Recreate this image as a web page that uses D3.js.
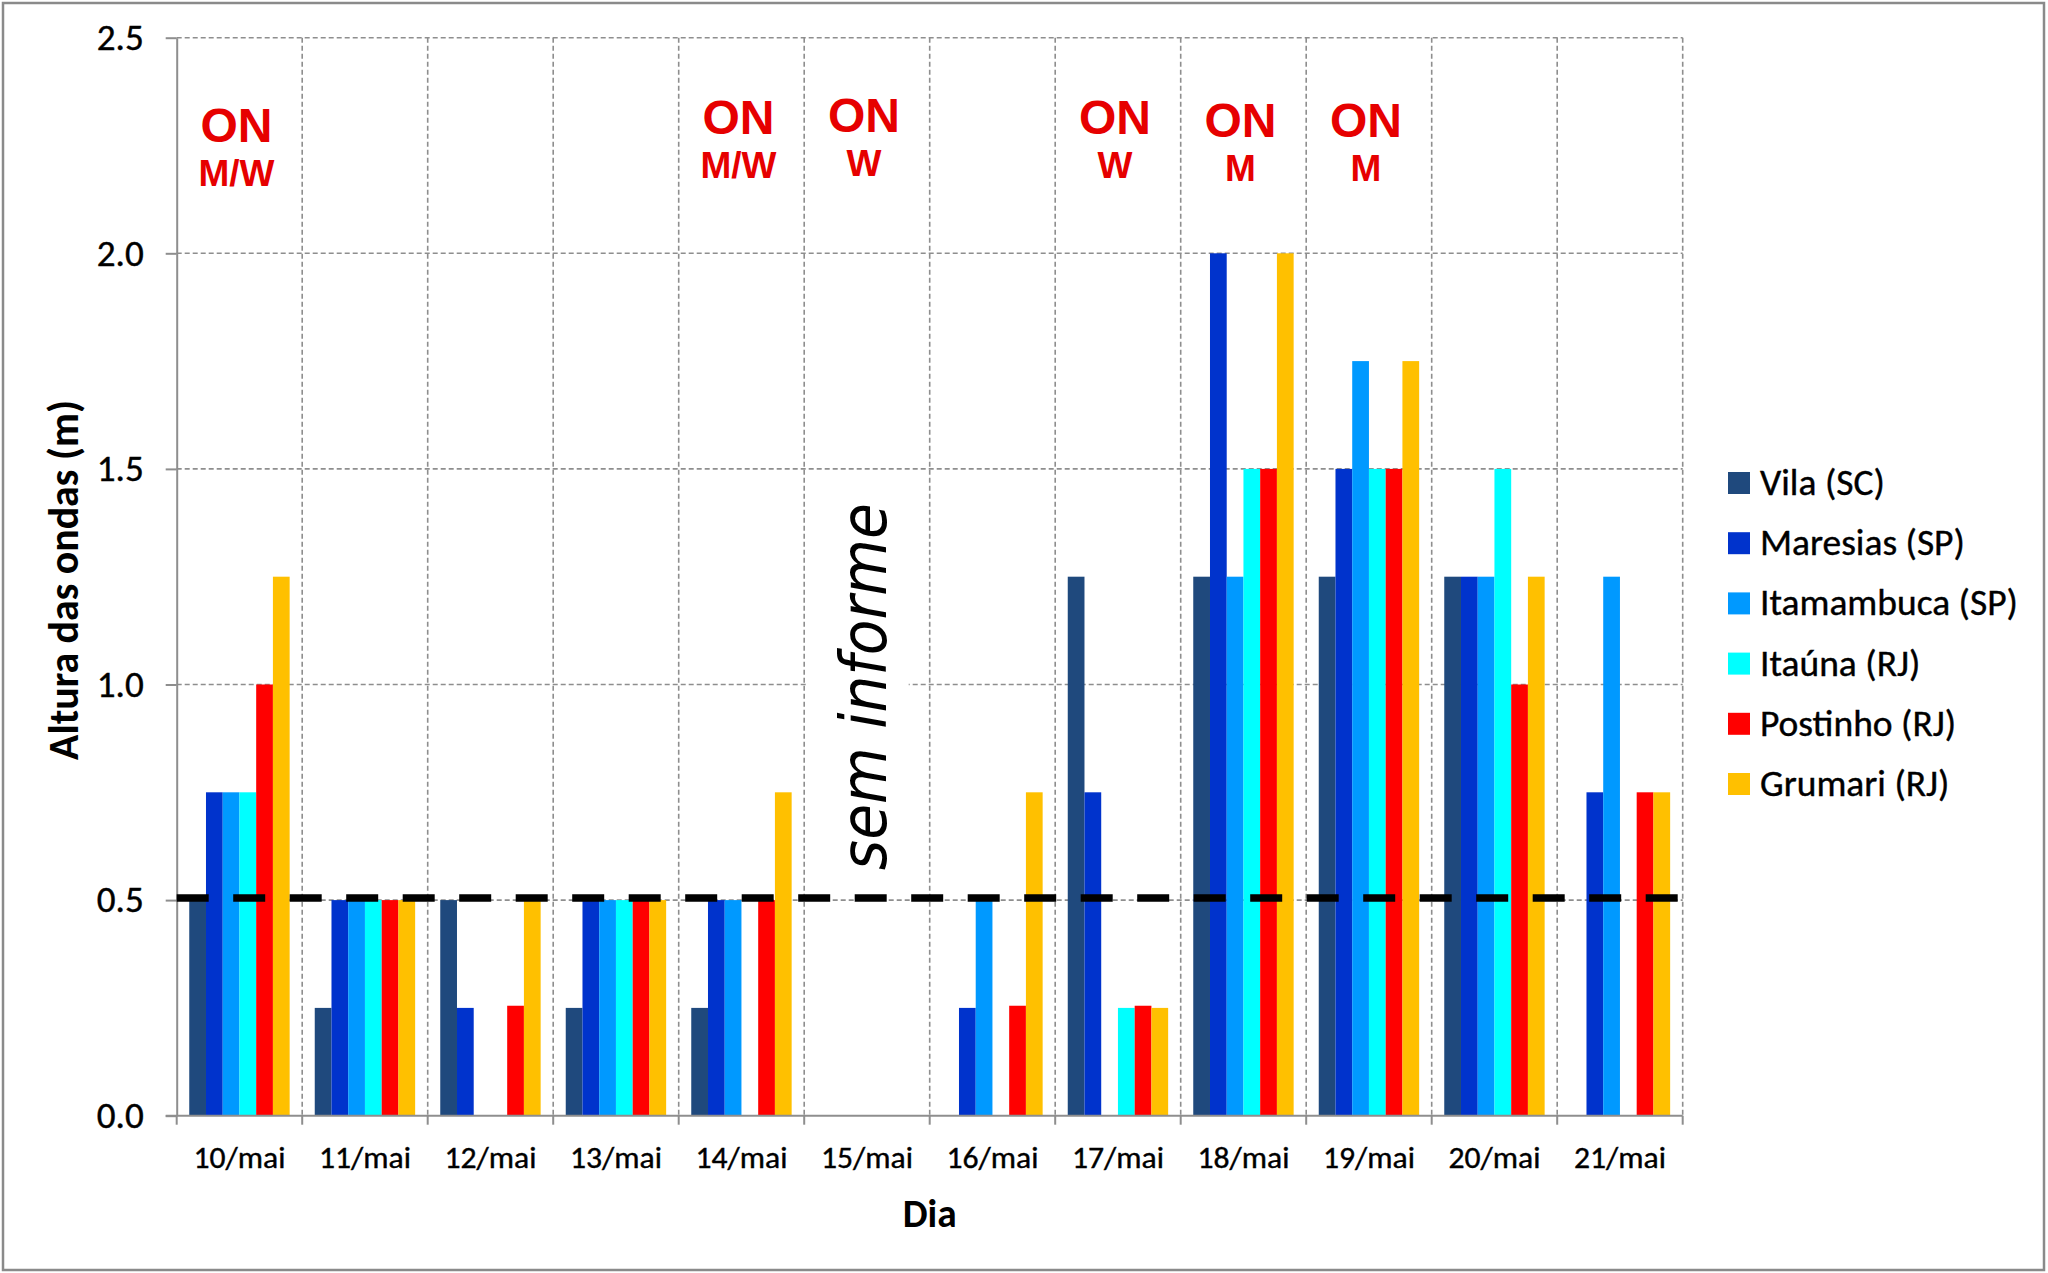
<!DOCTYPE html>
<html>
<head>
<meta charset="utf-8">
<script src="https://cdn.jsdelivr.net/npm/d3@7"></script>
<style>
  html, body { margin: 0; padding: 0; background: #ffffff; }
  svg { display: block; }
</style>
</head>
<body>
<svg id="chart" width="2048" height="1273"></svg>
<script>
// ---------------- DATA ----------------
const days = ["10/mai","11/mai","12/mai","13/mai","14/mai","15/mai","16/mai","17/mai","18/mai","19/mai","20/mai","21/mai"];
const seriesNames = ["Vila (SC)","Maresias (SP)","Itamambuca (SP)","Itaúna (RJ)","Postinho (RJ)","Grumari (RJ)"];
const vila       = [0.5, 0.25, 0.5,  0.25, 0.25, null, null,  1.25,  1.25, 1.25, 1.25, null];
const maresias   = [0.75,0.5,  0.25, 0.5,  0.5,  null, 0.25,  0.75,  2.0,  1.5,  1.25, 0.75];
const itamambuca = [0.75,0.5,  null, 0.5,  0.5,  null, 0.5,   null,  1.25, 1.75, 1.25, 1.25];
const itauna     = [0.75,0.5,  null, 0.5,  null, null, null,  0.25,  1.5,  1.5,  1.5,  null];
const postinho   = [1.0, 0.5,  0.255,0.5,  0.5,  null, 0.255, 0.255, 1.5,  1.5,  1.0,  0.75];
const grumari    = [1.25,0.5,  0.5,  0.5,  0.75, null, 0.75,  0.25,  2.0,  1.75, 1.25, 0.75];
const yTicks = [0, 0.5, 1.0, 1.5, 2.0, 2.5];
const limiar = 0.505;                         // dashed reference line (m)
const onDays  = ["10/mai","14/mai","15/mai","17/mai","18/mai","19/mai"];
const onSub   = ["M/W","M/W","W","W","M","M"];
const onLevel = [2.259, 2.277, 2.281, 2.277, 2.27, 2.27];   // annotation anchor height (m)
const semInformeDay = "15/mai";
const yTitle = "Altura das ondas (m)";
const xTitle = "Dia";

// ---------------- STYLE ----------------
const colours = ["#1F497D","#0033CC","#0099FF","#00FFFF","#FF0000","#FFC000"];
const gridColour = "#8e8e8e";
const labelFont = "Carlito, Lato, sans-serif";

const values = [vila, maresias, itamambuca, itauna, postinho, grumari];

const svg = d3.select("#chart");
const W = 2048, H = 1273;
const plot = { l: 176.7, r: 1682.7, t: 37.7, b: 1115.7 };

// scale a group of texts so that the reference text reaches the wanted width
function fitFont(sel, refNode, width) {
  const w = refNode.getComputedTextLength();
  const fs = parseFloat(refNode.getAttribute("font-size"));
  sel.attr("font-size", fs * width / w);
}

// outer border
svg.append("rect").attr("x", 3).attr("y", 3).attr("width", W - 7).attr("height", H - 6)
  .attr("fill", "#fff").attr("stroke", "#8a8a8a").attr("stroke-width", 2.5);

const x = d3.scaleBand().domain(days).range([plot.l, plot.r]).paddingInner(0).paddingOuter(0);
const xs = d3.scaleBand().domain(seriesNames).range([0, x.bandwidth()]).paddingInner(0).paddingOuter(0.75);
const y = d3.scaleLinear().domain([0, 2.5]).range([plot.b, plot.t]);
const colour = d3.scaleOrdinal(seriesNames, colours);

// gridlines
const grid = svg.append("g");
grid.selectAll("line.h").data(yTicks.filter(v => v > 0)).join("line")
  .attr("x1", plot.l).attr("x2", plot.r)
  .attr("y1", d => y(d)).attr("y2", d => y(d))
  .attr("stroke", gridColour).attr("stroke-width", 1.6).attr("stroke-dasharray", "5,3");
grid.selectAll("line.v").data(days).join("line")
  .attr("x1", d => x(d) + x.bandwidth()).attr("x2", d => x(d) + x.bandwidth())
  .attr("y1", plot.t).attr("y2", plot.b)
  .attr("stroke", gridColour).attr("stroke-width", 1.6).attr("stroke-dasharray", "5,3");

// white box behind "sem informe"
const sx = x(semInformeDay);
svg.append("rect")
  .attr("x", sx + 3).attr("y", y(1.5) + 1.5)
  .attr("width", x.bandwidth() - 24).attr("height", y(0.55) - y(1.5))
  .attr("fill", "#fff");

// bars
const flat = [];
values.forEach((arr, si) => arr.forEach((v, di) => {
  if (v !== null) flat.push({ day: days[di], s: seriesNames[si], v });
}));
svg.append("g").selectAll("rect").data(flat).join("rect")
  .attr("x", d => x(d.day) + xs(d.s))
  .attr("width", xs.bandwidth())
  .attr("y", d => y(d.v))
  .attr("height", d => y(0) - y(d.v))
  .attr("fill", d => colour(d.s));

// axes
const yAxis = svg.append("g").attr("transform", `translate(${plot.l},0)`)
  .call(d3.axisLeft(y).tickValues(yTicks).tickFormat(d3.format(".1f")).tickSize(11).tickSizeOuter(0).tickPadding(22));
yAxis.select(".domain").attr("stroke", gridColour).attr("stroke-width", 2);
yAxis.selectAll(".tick line").attr("stroke", gridColour).attr("stroke-width", 2);
const yTxt = yAxis.selectAll(".tick text").attr("font-family", labelFont).attr("font-size", 32)
  .attr("fill", "#000").attr("stroke", "#000").attr("stroke-width", 0.4);
fitFont(yTxt, yTxt.nodes()[3], 47);

const xAxis = svg.append("g").attr("transform", `translate(0,${plot.b})`)
  .call(d3.axisBottom(x).tickSize(0).tickSizeOuter(0));
xAxis.select(".domain").remove();
const xTxt = xAxis.selectAll(".tick text").attr("font-family", labelFont).attr("font-size", 30)
  .attr("fill", "#000").attr("stroke", "#000").attr("stroke-width", 0.4).attr("dy", 0).attr("y", 52.5);
fitFont(xTxt, xTxt.nodes()[0], 92);
svg.append("line").attr("x1", plot.l - 11).attr("x2", plot.r).attr("y1", plot.b).attr("y2", plot.b)
  .attr("stroke", gridColour).attr("stroke-width", 2);
svg.append("g").selectAll("line").data([null].concat(days)).join("line")
  .attr("x1", d => d === null ? plot.l : x(d) + x.bandwidth())
  .attr("x2", d => d === null ? plot.l : x(d) + x.bandwidth())
  .attr("y1", plot.b).attr("y2", plot.b + 9)
  .attr("stroke", gridColour).attr("stroke-width", 2);

// threshold dashed line
svg.append("line").attr("x1", plot.l).attr("x2", plot.r)
  .attr("y1", y(limiar)).attr("y2", y(limiar))
  .attr("stroke", "#000").attr("stroke-width", 7.5).attr("stroke-dasharray", "32,24.5");

// axis titles
const yt = svg.append("text").attr("transform", `translate(78,580) rotate(-90)`)
  .attr("text-anchor", "middle").attr("font-family", labelFont).attr("font-weight", "bold")
  .attr("font-size", 37).attr("fill", "#000").text(yTitle);
fitFont(yt, yt.node(), 360);
const xt = svg.append("text").attr("x", (plot.l + plot.r) / 2).attr("y", 1227)
  .attr("text-anchor", "middle").attr("font-family", labelFont).attr("font-weight", "bold")
  .attr("font-size", 37).attr("fill", "#000").text(xTitle);
fitFont(xt, xt.node(), 54);

// "ON" annotations
const ann = svg.append("g").attr("fill", "#E60000").attr("font-family", "'Liberation Sans', Arial, sans-serif")
  .attr("font-weight", "bold").attr("text-anchor", "middle");
onDays.forEach((d, i) => {
  const cx = x(d) + x.bandwidth() / 2 - 3;
  ann.append("text").attr("x", cx).attr("y", y(onLevel[i])).attr("font-size", 48).text("ON");
  ann.append("text").attr("x", cx).attr("y", y(onLevel[i]) + 44).attr("font-size", 37).text(onSub[i]);
});

// "sem informe"
svg.append("text")
  .attr("transform", `translate(${x(semInformeDay) + x.bandwidth() / 2 + 19},${y(0.995)}) rotate(-90)`)
  .attr("text-anchor", "middle").attr("font-family", "'DejaVu Sans', sans-serif")
  .attr("font-style", "italic").attr("font-size", 64).attr("fill", "#000")
  .attr("textLength", 367).attr("lengthAdjust", "spacingAndGlyphs")
  .text("sem informe");

// legend
const lg = svg.append("g");
const legTexts = [];
seriesNames.forEach((s, i) => {
  const cy = 483 + 60.2 * i;
  lg.append("rect").attr("x", 1728).attr("y", cy - 11).attr("width", 22).attr("height", 22).attr("fill", colour(s));
  legTexts.push(lg.append("text").attr("x", 1760).attr("y", cy + 12).attr("font-family", labelFont)
    .attr("font-size", 33).attr("fill", "#000").attr("stroke", "#000").attr("stroke-width", 0.4).text(s).node());
});
fitFont(d3.selectAll(legTexts), legTexts[2], 258);
</script>
</body>
</html>
